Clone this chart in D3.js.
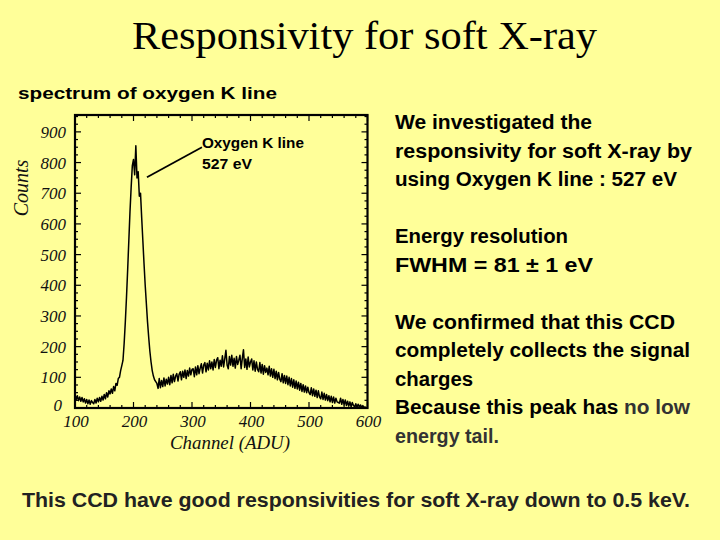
<!DOCTYPE html>
<html><head><meta charset="utf-8">
<script src="https://cdn.jsdelivr.net/npm/d3@7"></script>
<style>
html,body{margin:0;padding:0;background:#ffff99;}
svg{display:block;}
</style></head>
<body>
<svg id="chart" width="720" height="540"></svg>
<script>
// ---- data ----
const channelStart = 100, channelEnd = 600, channelStep = 2;
const counts = [
 45,28,40,24,36,22,34,20,30,16,28,14,26,12,24,18,
 14,28,16,32,20,34,22,38,26,44,30,50,36,56,46,
 62,48,70,56,80,74,96,100,122,138,
 155,210,280,360,450,545,640,720,790,810,760,855,750,770,690,700,620,545,470,400,340,280,230,185,150,122,104,92,86,80,
 64,96,66,90,70,98,72,94,78,100,
 76,106,82,110,86,104,112,88,110,118,92,120,100,124,96,122,104,130,108,126,
 128,102,134,108,138,112,130,144,114,140,148,118,146,124,154,128,150,124,158,132,156,164,128,156,136,170,134,160,188,140,
 128,168,140,172,136,162,130,168,142,156,172,128,162,190,132,160,126,166,134,150,
 160,124,154,120,150,126,118,148,114,142,110,138,116,130,108,136,104,128,100,126,96,120,92,116,94,
 86,112,82,106,80,104,76,100,72,96,68,92,64,88,62,84,58,80,54,76,52,72,50,68,50,
 44,66,40,62,38,58,34,56,36,30,52,28,48,26,44,24,40,20,38,18,36,16,32,20,18,
 16,32,12,28,10,26,8,22,6,20,4,18,8,4,14,2,12,3,10,2,8,2,3,1,0
];
const xTicks = [100,200,300,400,500,600];
const yTicks = [0,100,200,300,400,500,600,700,800,900];
const annotation = {from:[223,752], to:[317,850], lines:["Oxygen K line","527 eV"]};
const title = "Responsivity for soft X-ray";
const subtitle = "spectrum of oxygen K line";
const notes = [
 [{t:"We investigated the"}],
 [{t:"responsivity for soft X-ray by"}],
 [{t:"using Oxygen K line : 527 eV"}],
 null,
 [{t:"Energy resolution"}],
 [{t:"FWHM = 81 \u00b1 1 eV"}],
 null,
 [{t:"We confirmed that this CCD"}],
 [{t:"completely collects the signal"}],
 [{t:"charges"}],
 [{t:"Because this peak has "},{t:"no low",c:"#333"}],
 [{t:"energy tail.",c:"#333"}]
];
const noteWidths = [197,297,282,null,173,198,null,280,295,78,295,104];
const footer = "This CCD have good responsivities for soft X-ray down to 0.5 keV.";

// ---- drawing ----
const svg = d3.select("#chart");
svg.append("rect").attr("width",720).attr("height",540).attr("fill","#ffff99");

const channels = d3.range(channelStart, channelEnd+1, channelStep);
const data = channels.map((c,i)=>({c, v:counts[i]}));

const x = d3.scaleLinear().domain([100,600]).range([75,367.5]);
const y = d3.scaleLinear().domain([0,955]).range([408,115]);

const serif = "'Liberation Serif','Times New Roman',serif";
const gothic = "'Liberation Sans',Arial,sans-serif";

// title
svg.append("text").attr("x",132).attr("y",49).attr("font-family",serif)
  .attr("font-size",40).attr("fill","#000").attr("textLength",465)
  .attr("lengthAdjust","spacingAndGlyphs").text(title);

svg.append("text").attr("x",18).attr("y",99).attr("font-family",gothic)
  .attr("font-weight","bold").attr("font-size",17).attr("fill","#000")
  .attr("textLength",259).attr("lengthAdjust","spacingAndGlyphs").text(subtitle);

// plot
const g = svg.append("g");
g.append("path").datum(data)
  .attr("d", d3.line().x(d=>x(d.c)).y(d=>y(d.v)))
  .attr("fill","none").attr("stroke","#000").attr("stroke-width",1.5)
  .attr("stroke-linejoin","round");

// ticks
const xMinor = d3.range(100,601,20);
const yMinor = d3.range(0,951,25);
const [x0,x1] = x.range(), [y0,y1] = y.range();
xMinor.forEach(v=>{
  const L = v%100===0 ? 6 : 3;
  g.append("line").attr("x1",x(v)).attr("x2",x(v)).attr("y1",y0).attr("y2",y0-L).attr("stroke","#000").attr("stroke-width",1.2);
  g.append("line").attr("x1",x(v)).attr("x2",x(v)).attr("y1",y1).attr("y2",y1+L).attr("stroke","#000").attr("stroke-width",1.2);
});
yMinor.forEach(v=>{
  const L = v%100===0 ? 6 : 3;
  g.append("line").attr("y1",y(v)).attr("y2",y(v)).attr("x1",x0).attr("x2",x0+L).attr("stroke","#000").attr("stroke-width",1.2);
  g.append("line").attr("y1",y(v)).attr("y2",y(v)).attr("x1",x1).attr("x2",x1-L).attr("stroke","#000").attr("stroke-width",1.2);
});
g.append("rect").attr("x",x0).attr("y",y1).attr("width",x1-x0).attr("height",y0-y1)
  .attr("fill","none").attr("stroke","#000").attr("stroke-width",2.2);

// tick labels
g.selectAll(".xl").data(xTicks).enter().append("text")
  .attr("x",d=>x(d)+1).attr("y",427).attr("text-anchor","middle")
  .attr("font-family",serif).attr("font-style","italic").attr("font-size",17)
  .attr("fill","#111").text(d=>d);
g.selectAll(".yl").data(yTicks).enter().append("text")
  .attr("x",d=>d===0?62:66).attr("y",d=>y(d)+(d===0?3:6)).attr("text-anchor","end")
  .attr("font-family",serif).attr("font-style","italic").attr("font-size",17)
  .attr("fill","#111").text(d=>d);

// axis titles
svg.append("text").attr("x",230).attr("y",449).attr("text-anchor","middle")
  .attr("font-family",serif).attr("font-style","italic").attr("font-size",19)
  .attr("fill","#111").attr("textLength",120).attr("lengthAdjust","spacingAndGlyphs")
  .text("Channel (ADU)");
svg.append("text").attr("transform","translate(28,188) rotate(-90)")
  .attr("text-anchor","middle").attr("font-family",serif).attr("font-style","italic")
  .attr("font-size",20).attr("fill","#111").text("Counts");

// annotation
g.append("line").attr("x1",x(annotation.from[0])).attr("y1",y(annotation.from[1]))
  .attr("x2",x(annotation.to[0])).attr("y2",y(annotation.to[1]))
  .attr("stroke","#000").attr("stroke-width",1.8);
annotation.lines.forEach((t,i)=>{
  g.append("text").attr("x",x(annotation.to[0])).attr("y",y(annotation.to[1])+1+i*20.5)
    .attr("font-family",gothic).attr("font-weight","bold").attr("font-size",14.5).attr("fill","#000")
    .attr("textLength", i===0?102:50).attr("lengthAdjust","spacingAndGlyphs").text(t);
});

// notes
notes.forEach((line,i)=>{
  if(!line) return;
  const t = svg.append("text").attr("x",395).attr("y",129+i*28.5)
    .attr("font-family",gothic).attr("font-weight","bold").attr("font-size",19.5)
    .attr("fill","#000").attr("textLength",noteWidths[i]).attr("lengthAdjust","spacingAndGlyphs");
  line.forEach(s=>t.append("tspan").attr("fill",s.c||"#000").text(s.t));
});

svg.append("text").attr("x",22).attr("y",507).attr("font-family",gothic)
  .attr("font-weight","bold").attr("font-size",19.5).attr("fill","#222")
  .attr("textLength",668).attr("lengthAdjust","spacingAndGlyphs").text(footer);
</script>
</body></html>
